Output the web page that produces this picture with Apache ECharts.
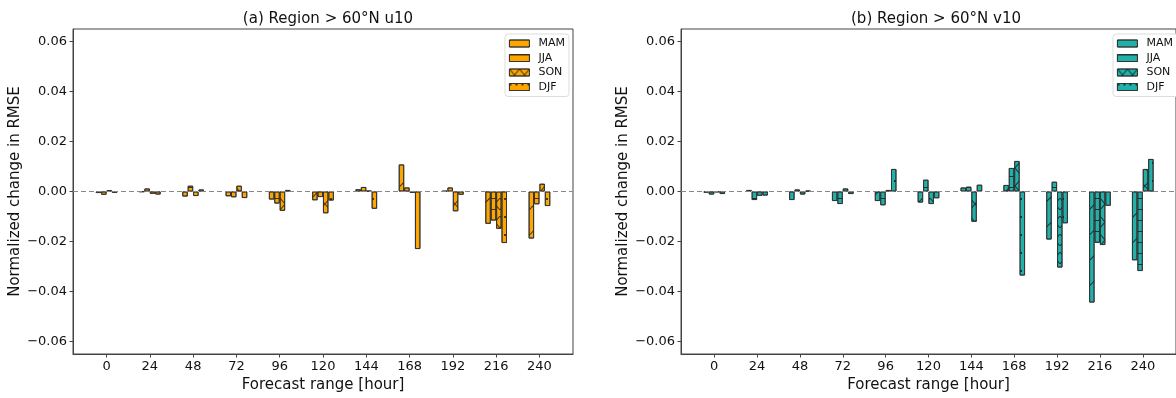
<!DOCTYPE html>
<html>
<head>
<meta charset="utf-8">
<script src="https://cdn.jsdelivr.net/npm/echarts@6/dist/echarts.min.js"></script>
<style>
  html, body { margin: 0; padding: 0; background: #fff; }
  #chart { width: 1176px; height: 398px; }
</style>
</head>
<body>
<div id="chart"></div>
<script>
// forecast lead times (hours)
const hours = [0, 24, 48, 72, 96, 120, 144, 168, 192, 216, 240];
const yTicks = [-0.06, -0.04, -0.02, 0.0, 0.02, 0.04, 0.06];
const seasons = ["MAM", "JJA", "SON", "DJF"];

// (a) u10
const u10MAM = [-0.0006, -0.0001, -0.0020, -0.0019, -0.0032, -0.0035, 0.0009, 0.0108, 0.0002, -0.0129, -0.0188];
const u10JJA = [-0.0013, 0.0012, 0.0023, -0.0023, -0.0048, -0.0022, 0.0018, 0.0016, 0.0016, -0.0116, -0.0051];
const u10SON = [0.0005, -0.0009, -0.0018, 0.0023, -0.0077, -0.0087, 0.0003, -0.0005, -0.0079, -0.0149, 0.0031];
const u10DJF = [-0.0005, -0.0012, 0.0008, -0.0026, 0.0006, -0.0036, -0.0069, -0.0230, -0.0013, -0.0206, -0.0058];

// (b) v10
const v10MAM = [-0.0004, 0.0006, -0.0034, -0.0038, -0.0038, -0.0044, 0.0016, 0.0026, -0.0192, -0.0444, -0.0275];
const v10JJA = [-0.0012, -0.0034, 0.0008, -0.0050, -0.0055, 0.0047, 0.0019, 0.0094, 0.0039, -0.0205, -0.0318];
const v10SON = [-0.0002, -0.0017, -0.0012, 0.0012, 0.0006, -0.0050, -0.0121, 0.0122, -0.0304, -0.0214, 0.0090];
const v10DJF = [-0.0010, -0.0016, 0.0003, -0.0010, 0.0090, -0.0027, 0.0027, -0.0336, -0.0127, -0.0057, 0.0130];

const FONT = "DejaVu Sans";
const hatchColor = "rgba(0,0,0,0.7)";

// sparse hatch-like decals per season
const decals = {
  MAM: { symbol: "rect", symbolSize: 1, dashArrayX: [1, 0], dashArrayY: [1, 17], rotation: -Math.PI / 4, color: hatchColor },
  JJA: { symbol: "rect", symbolSize: 1, dashArrayX: [1, 0], dashArrayY: [1, 10], rotation: 0, color: hatchColor },
  SON: { symbol: "path://M0,0L0.6,0L10,9.4L10,10L9.4,10L0,0.6Z M9.4,0L10,0L10,0.6L0.6,10L0,10L0,9.4Z", symbolSize: 1, symbolKeepAspect: false, dashArrayX: [10, 0], dashArrayY: [12, 6], color: hatchColor },
  DJF: { symbol: "circle", symbolSize: 0.9, dashArrayX: [2, 4], dashArrayY: [2, 16], color: "#000" }
};

function makeGrid(left) {
  return { left: left, top: 29, width: 500, height: 331, show: true, borderColor: "#444", borderWidth: 1, backgroundColor: "transparent" };
}

function makeXAxis(gridIndex) {
  return {
    type: "value", gridIndex: gridIndex, min: -18.6, max: 258.6,
    name: "Forecast range [hour]", nameLocation: "middle", nameGap: 24,
    nameTextStyle: { fontFamily: FONT, fontSize: 15, color: "#111" },
    axisLine: { show: true, onZero: false, lineStyle: { color: "#444", width: 1 } },
    axisTick: { show: true, length: 3.5, customValues: hours, lineStyle: { color: "#444" } },
    axisLabel: { customValues: hours, margin: 6, fontFamily: FONT, fontSize: 13, color: "#111" },
    splitLine: { show: false }
  };
}

function makeYAxis(gridIndex) {
  return {
    type: "value", gridIndex: gridIndex, min: -0.065, max: 0.065,
    name: "Normalized change in RMSE", nameLocation: "middle", nameGap: 50,
    nameTextStyle: { fontFamily: FONT, fontSize: 15, color: "#111" },
    axisLine: { show: true, onZero: false, lineStyle: { color: "#444", width: 1 } },
    axisTick: { show: true, length: 3.5, customValues: yTicks, lineStyle: { color: "#444" } },
    axisLabel: {
      customValues: yTicks, margin: 6, fontFamily: FONT, fontSize: 13, color: "#111",
      formatter: (v) => (v < 0 ? "\u2212" : "") + Math.abs(v).toFixed(2)
    },
    splitLine: { show: false }
  };
}

function makeSeries(name, values, color, axisIndex, withZeroLine) {
  const s = {
    name: name,
    type: "bar",
    xAxisIndex: axisIndex,
    yAxisIndex: axisIndex,
    data: hours.map((h, i) => [h, values[i]]),
    barWidth: 5.4,
    barGap: "0%",
    itemStyle: { color: color, borderColor: "#333", borderWidth: 0.9, decal: decals[name.trim()] },
    emphasis: { disabled: true }
  };
  if (withZeroLine) {
    s.markLine = {
      silent: true, symbol: "none", label: { show: false },
      lineStyle: { color: "#888", type: [5, 3], width: 1.2 },
      data: [{ yAxis: 0 }]
    };
  }
  return s;
}

function makeLegend(left, color, suffix) {
  return {
    orient: "vertical", left: left, top: 34,
    data: seasons.map((s) => ({ name: s + suffix })),
    icon: "rect",
    itemWidth: 20, itemHeight: 7, itemGap: 3.5,
    padding: [4, 4, 4, 4],
    backgroundColor: "#fff", borderColor: "#ddd", borderWidth: 1, borderRadius: 3,
    textStyle: { fontFamily: FONT, fontSize: 11, color: "#111", padding: [0, 0, 0, 4] },
    itemStyle: { color: color, borderColor: "#333", borderWidth: 0.9 }
  };
}

const orange = "#FFA500";
const teal = "#20B2AA";

const chart = echarts.init(document.getElementById("chart"), null, { renderer: "canvas" });
chart.setOption({
  animation: false,
  title: [
    { text: "(a) Region > 60°N u10", left: 323, top: 7, textAlign: "center", textStyle: { fontFamily: FONT, fontSize: 15, fontWeight: "normal", color: "#111" } },
    { text: "(b) Region > 60°N v10", left: 931, top: 7, textAlign: "center", textStyle: { fontFamily: FONT, fontSize: 15, fontWeight: "normal", color: "#111" } }
  ],
  legend: [makeLegend(505, orange, ""), makeLegend(1113, teal, " ")],
  grid: [makeGrid(73), makeGrid(681)],
  xAxis: [makeXAxis(0), makeXAxis(1)],
  yAxis: [makeYAxis(0), makeYAxis(1)],
  series: [
    makeSeries("MAM", u10MAM, orange, 0, true),
    makeSeries("JJA", u10JJA, orange, 0, false),
    makeSeries("SON", u10SON, orange, 0, false),
    makeSeries("DJF", u10DJF, orange, 0, false),
    makeSeries("MAM ", v10MAM, teal, 1, true),
    makeSeries("JJA ", v10JJA, teal, 1, false),
    makeSeries("SON ", v10SON, teal, 1, false),
    makeSeries("DJF ", v10DJF, teal, 1, false)
  ]
});
</script>
</body>
</html>
